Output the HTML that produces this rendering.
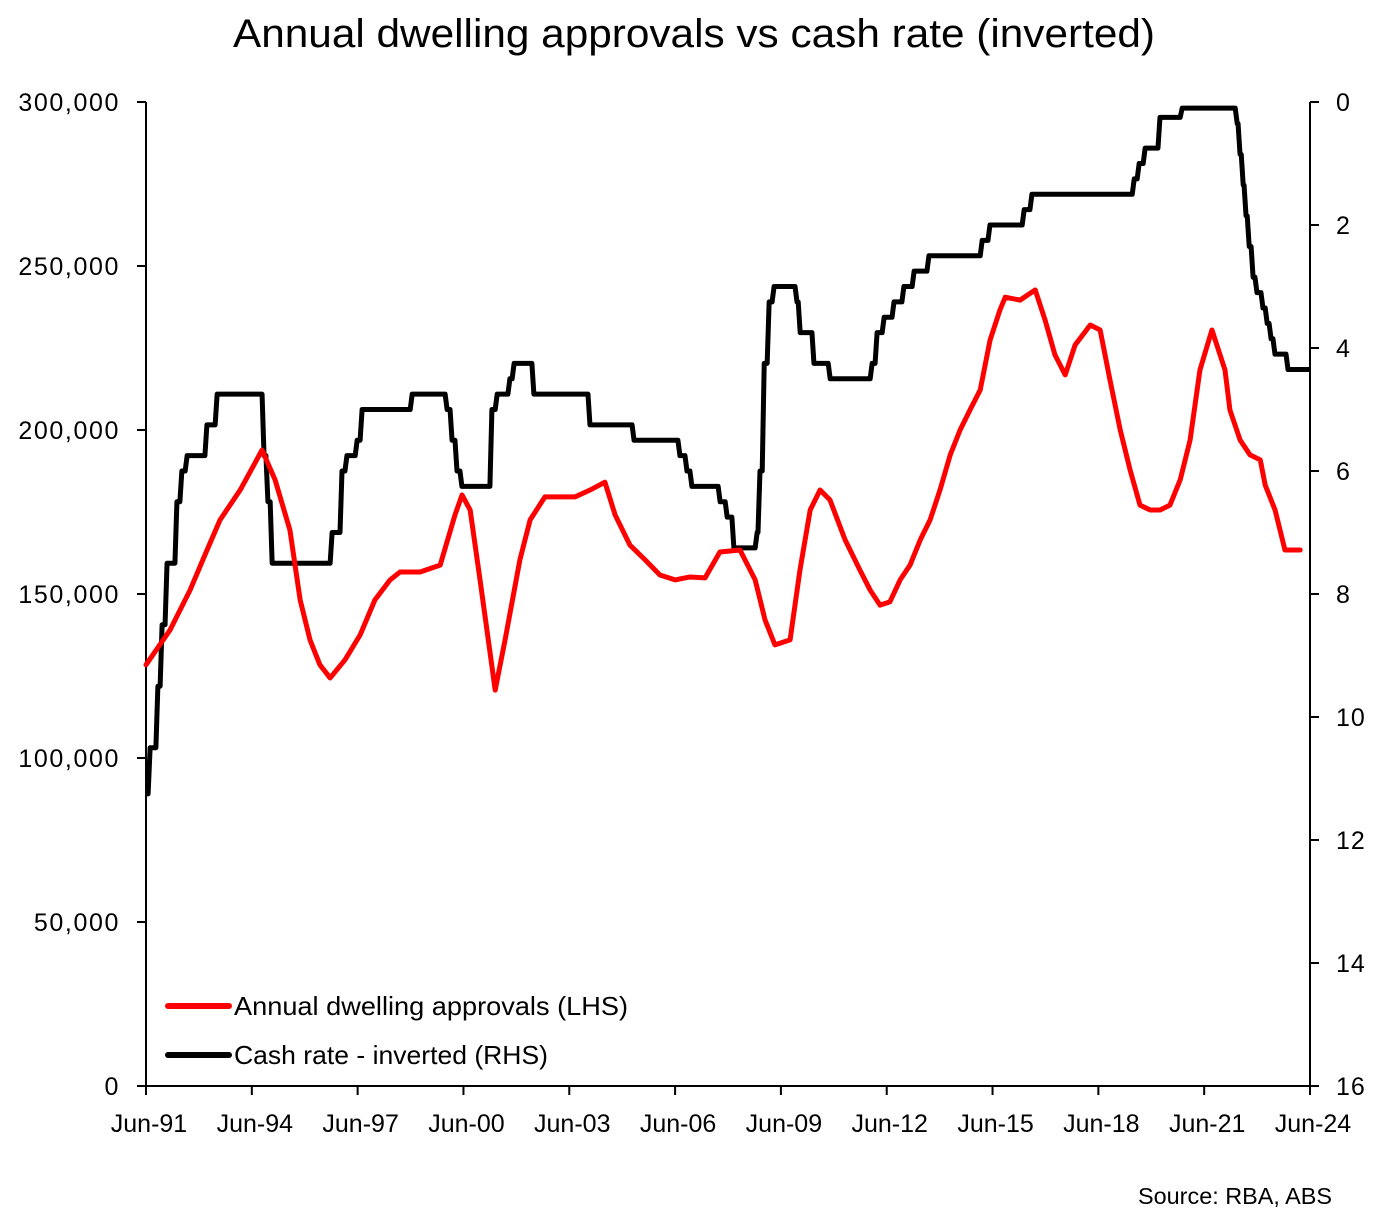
<!DOCTYPE html>
<html><head><meta charset="utf-8"><style>
body{margin:0;background:#fff;font-family:"Liberation Sans",sans-serif}
svg text{font-family:"Liberation Sans",sans-serif;fill:#000}
</style></head><body>
<svg id="chart" width="1373" height="1214" xmlns="http://www.w3.org/2000/svg">
<text x="694" y="47" font-size="40" text-anchor="middle" textLength="922" lengthAdjust="spacingAndGlyphs">Annual dwelling approvals vs cash rate (inverted)</text>
<g id="axes"></g>
<g id="series"></g>
<g>
<line x1="168" y1="1006" x2="229" y2="1006" stroke="#ff0000" stroke-width="6" stroke-linecap="round"/>
<text x="234" y="1015" font-size="26" textLength="394" lengthAdjust="spacingAndGlyphs">Annual dwelling approvals (LHS)</text>
<line x1="168" y1="1055" x2="229" y2="1055" stroke="#000" stroke-width="6" stroke-linecap="round"/>
<text x="234" y="1064" font-size="26" textLength="314" lengthAdjust="spacingAndGlyphs">Cash rate - inverted (RHS)</text>
</g>
<text x="1332" y="1204" font-size="23" text-anchor="end" textLength="194" lengthAdjust="spacingAndGlyphs">Source: RBA, ABS</text>
</svg>
<script>
const xTickLabels=["Jun-91","Jun-94","Jun-97","Jun-00","Jun-03","Jun-06","Jun-09","Jun-12","Jun-15","Jun-18","Jun-21","Jun-24"];
const xTickYears=[1991.5,1994.5,1997.5,2000.5,2003.5,2006.5,2009.5,2012.5,2015.5,2018.5,2021.5,2024.5];
const leftTicks=[0,50000,100000,150000,200000,250000,300000];
const rightTicks=[0,2,4,6,8,10,12,14,16];
const apprYears=[1991.5,1992.18,1992.75,1993.17,1993.6,1994.17,1994.79,1995.16,1995.58,1995.87,1996.15,1996.43,1996.72,1997.14,1997.57,1997.99,1998.42,1998.7,1999.27,1999.84,2000.26,2000.46,2000.69,2000.97,2001.4,2001.68,2002.1,2002.39,2002.81,2003.24,2003.66,2004.09,2004.51,2004.8,2005.22,2005.65,2006.07,2006.5,2006.92,2007.35,2007.77,2008.34,2008.77,2009.05,2009.33,2009.76,2010.04,2010.33,2010.61,2010.89,2011.32,2011.74,2012.03,2012.31,2012.59,2012.88,2013.16,2013.45,2013.73,2014.01,2014.3,2014.58,2014.86,2015.15,2015.43,2015.71,2015.86,2016.28,2016.71,2016.99,2017.27,2017.56,2017.84,2018.27,2018.55,2018.83,2019.12,2019.4,2019.68,2019.97,2020.25,2020.53,2020.82,2021.1,2021.38,2021.72,2022.09,2022.23,2022.52,2022.8,2023.09,2023.23,2023.51,2023.79,2024.22];
const apprValues=[128400,139000,151200,161900,172600,181700,193900,184800,169500,148200,136000,128400,124400,129900,137500,148200,154300,156700,156700,158800,174100,180200,175600,154300,120700,136000,160400,172600,179600,179600,179600,181700,184100,174100,164900,160400,155800,154300,155200,154900,162800,163400,154300,142100,134500,136000,157300,175600,181700,178700,166500,157300,151200,146600,147600,154300,158800,166500,172600,181700,192400,200000,206100,212200,227400,236600,240500,239600,242700,233500,222900,216800,225900,232000,230500,215200,200000,187800,177100,175600,175600,177100,184800,196900,218300,230500,218300,206100,196900,192400,190900,183200,175600,163400,163400];
const rateYears=[1991.5,1991.56,1991.78,1991.9,1992.04,1992.32,1992.46,1992.61,1993.17,1993.46,1994.79,1994.9,1995.02,1996.72,1997.0,1997.14,1997.43,1997.57,1998.99,1999.98,2000.12,2000.26,2000.4,2001.25,2001.4,2001.76,2001.88,2002.44,2004.03,2005.28,2006.58,2006.78,2006.92,2007.72,2007.92,2008.11,2008.77,2008.85,2008.97,2009.11,2009.25,2009.9,2009.99,2010.38,2010.84,2012.03,2012.17,2012.37,2012.65,2012.93,2013.22,2013.64,2015.15,2015.37,2016.34,2016.56,2019.46,2019.6,2019.77,2020.19,2020.82,2022.38,2022.46,2022.55,2022.63,2022.72,2022.83,2022.94,2023.11,2023.23,2023.34,2023.45,2023.82];
const rateValues=[11.25,10.5,9.5,8.5,7.5,6.5,6.0,5.75,5.25,4.75,5.75,6.5,7.5,7.0,6.0,5.75,5.5,5.0,4.75,5.0,5.5,6.0,6.25,5.0,4.75,4.5,4.25,4.75,5.25,5.5,5.75,6.0,6.25,6.5,6.75,7.25,7.0,6.0,4.25,3.25,3.0,3.25,3.75,4.25,4.5,4.25,3.75,3.5,3.25,3.0,2.75,2.5,2.25,2.0,1.75,1.5,1.25,1.0,0.75,0.25,0.1,0.35,0.85,1.35,1.85,2.35,2.85,3.1,3.35,3.6,3.85,4.1,4.35];
const rateEnd=2024.5;

const X0=146,X1=1310,Y0=102,Y1=1086,NS="http://www.w3.org/2000/svg";
const xS=y=>X0+(y-1991.5)/(2024.5-1991.5)*(X1-X0);
const yL=v=>Y1-v/300000*(Y1-Y0);
const yR=r=>Y0+r/16*(Y1-Y0);
function mk(tag,attrs,parent){const e=document.createElementNS(NS,tag);for(const k in attrs)e.setAttribute(k,attrs[k]);parent.appendChild(e);return e;}
const axes=document.getElementById('axes'),series=document.getElementById('series');
let a=mk('line',{x1:X0,y1:Y0,x2:X0,y2:Y1,stroke:'#000','stroke-width':2},axes);


a=mk('line',{x1:X1,y1:Y0,x2:X1,y2:Y1,stroke:'#000','stroke-width':2},axes);


a=mk('line',{x1:X0,y1:Y1,x2:X1,y2:Y1,stroke:'#000','stroke-width':2},axes);


leftTicks.forEach(v=>{const y=yL(v);
 mk('line',{x1:X0-9,y1:y,x2:X0,y2:y,stroke:'#000','stroke-width':2},axes);
 const t=mk('text',{x:X0-26,y:y+9,'font-size':25,'text-anchor':'end','letter-spacing':1.6},axes);t.textContent=v.toLocaleString('en-US');
 
 });
rightTicks.forEach(v=>{const y=yR(v);
 mk('line',{x1:X1,y1:y,x2:X1+9,y2:y,stroke:'#000','stroke-width':2},axes);
 const t=mk('text',{x:1336,y:y+9,'font-size':25,'text-anchor':'start','letter-spacing':1},axes);t.textContent=v;
 
 });
xTickYears.forEach((yr,i)=>{const x=xS(yr);
 mk('line',{x1:x,y1:Y1,x2:x,y2:Y1+9,stroke:'#000','stroke-width':2},axes);
 const t=mk('text',{x:x+3,y:1132,'font-size':25,'text-anchor':'middle'},axes);t.textContent=xTickLabels[i];
 
 });
let d='';
for(let i=0;i<rateYears.length;i++){const x=xS(rateYears[i]),y=yR(rateValues[i]);
 if(i===0)d+=`M${x},${y}`;else d+=`L${x},${yR(rateValues[i-1])}L${x+2},${y}`;}
d+=`L${xS(rateEnd)},${yR(rateValues[rateValues.length-1])}`;
let p=mk('path',{d:d,fill:'none',stroke:'#000','stroke-width':5,'stroke-linejoin':'round'},series);


d='';
apprYears.forEach((yr,i)=>{d+=(i?'L':'M')+xS(yr)+','+yL(apprValues[i]);});
p=mk('path',{d:d,fill:'none',stroke:'#ff0000','stroke-width':5,'stroke-linejoin':'round','stroke-linecap':'round'},series);


</script>
</body></html>
